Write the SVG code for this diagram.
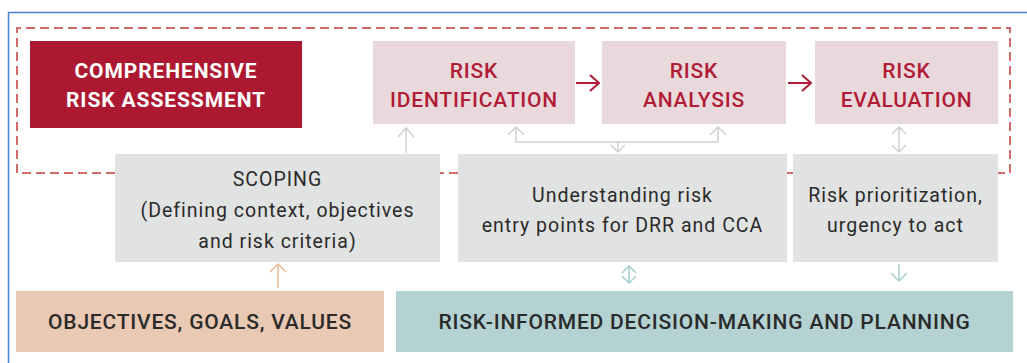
<svg xmlns="http://www.w3.org/2000/svg" width="1027" height="363" viewBox="0 0 1027 363">
<style>
text{font-family:Roboto,"Liberation Sans",sans-serif;text-anchor:middle}
.hd{font-size:21px;font-weight:700;fill:#ffffff;letter-spacing:0.9px}
.pk{font-size:21px;font-weight:500;fill:#b01c36;letter-spacing:0.8px}
.gy{font-size:19.5px;fill:#2a2a2a;letter-spacing:1px}
.bt{font-size:21px;font-weight:500;fill:#2a2a2a;letter-spacing:0.8px}
.cg{fill:none;stroke:#cfd1d0;stroke-width:1.5}
.cp{fill:none;stroke:#eab99a;stroke-width:1.5}
.ct{fill:none;stroke:#a9cccc;stroke-width:1.5}
.cr{fill:none;stroke:#b01c36;stroke-width:2}
</style>
<rect width="1027" height="363" fill="#ffffff"/>
<path d="M8.5 363 V12.5 H1027" fill="none" stroke="#4a7fd4" stroke-width="1.5"/>
<path d="M115 173 H17 V28 H1010 V173 H998 M793 173 H787 M458 173 H440" fill="none" stroke="#d26a6a" stroke-width="2" stroke-dasharray="9 5"/>
<g id="cra"><rect x="30" y="41" width="272" height="87" fill="#ad1831"/><text class="hd" x="166" y="78">COMPREHENSIVE</text><text class="hd" x="166" y="107">RISK ASSESSMENT</text></g>
<g id="rid"><rect x="373" y="41" width="202" height="83" fill="#ead9dc"/><text class="pk" x="474" y="78">RISK</text><text class="pk" x="474" y="107">IDENTIFICATION</text></g>
<g id="ran"><rect x="602" y="41" width="184" height="83" fill="#ead9dc"/><text class="pk" x="694" y="78">RISK</text><text class="pk" x="694" y="107">ANALYSIS</text></g>
<g id="rev"><rect x="815" y="41" width="183" height="83" fill="#ead9dc"/><text class="pk" x="906.5" y="78">RISK</text><text class="pk" x="906.5" y="107">EVALUATION</text></g>
<g id="scp"><rect x="115" y="154" width="325" height="108" fill="#e1e3e2"/><text class="gy" x="277.5" y="186">SCOPING</text><text class="gy" x="277.5" y="217">(Defining context, objectives</text><text class="gy" x="277.5" y="248">and risk criteria)</text></g>
<g id="und"><rect x="458" y="154" width="329" height="108" fill="#e1e3e2"/><text class="gy" x="622.5" y="202">Understanding risk</text><text class="gy" x="622.5" y="232">entry points for DRR and CCA</text></g>
<g id="pri"><rect x="793" y="154" width="205" height="108" fill="#e1e3e2"/><text class="gy" x="895.5" y="202">Risk prioritization,</text><text class="gy" x="895.5" y="232">urgency to act</text></g>
<g id="obj"><rect x="16" y="291" width="368" height="61" fill="#e9c9b3"/><text class="bt" x="200" y="329">OBJECTIVES, GOALS, VALUES</text></g>
<g id="rdm"><rect x="396" y="291" width="617" height="61" fill="#b4d2d2"/><text class="bt" x="704.5" y="329">RISK-INFORMED DECISION-MAKING AND PLANNING</text></g>
<g id="connectors">
<path class="cr" d="M576 83 H598 M590 75 L599 83 L590 91"/>
<path class="cr" d="M788 83 H810 M802 75 L811 83 L802 91"/>
<path class="cg" d="M406 153 V128 M398 137 L406 128 L414 137"/>
<path class="cg" d="M516 127 V142 H718 V127 M508 135 L516 127 L524 135 M710 135 L718 127 L726 135 M618 142 V152 M611 145 L618 152 L625 145"/>
<path class="cg" d="M899 127 V152 M892 134 L899 127 L906 134 M892 145 L899 152 L906 145"/>
<path class="cp" d="M278 288 V264 M270 272 L278 264 L286 272"/>
<path class="ct" d="M629 266 V283 M622 273 L629 266 L636 273 M622 276 L629 283 L636 276"/>
<path class="ct" d="M899 264 V281 M891 273 L899 281 L907 273"/>
</g>
</svg>
